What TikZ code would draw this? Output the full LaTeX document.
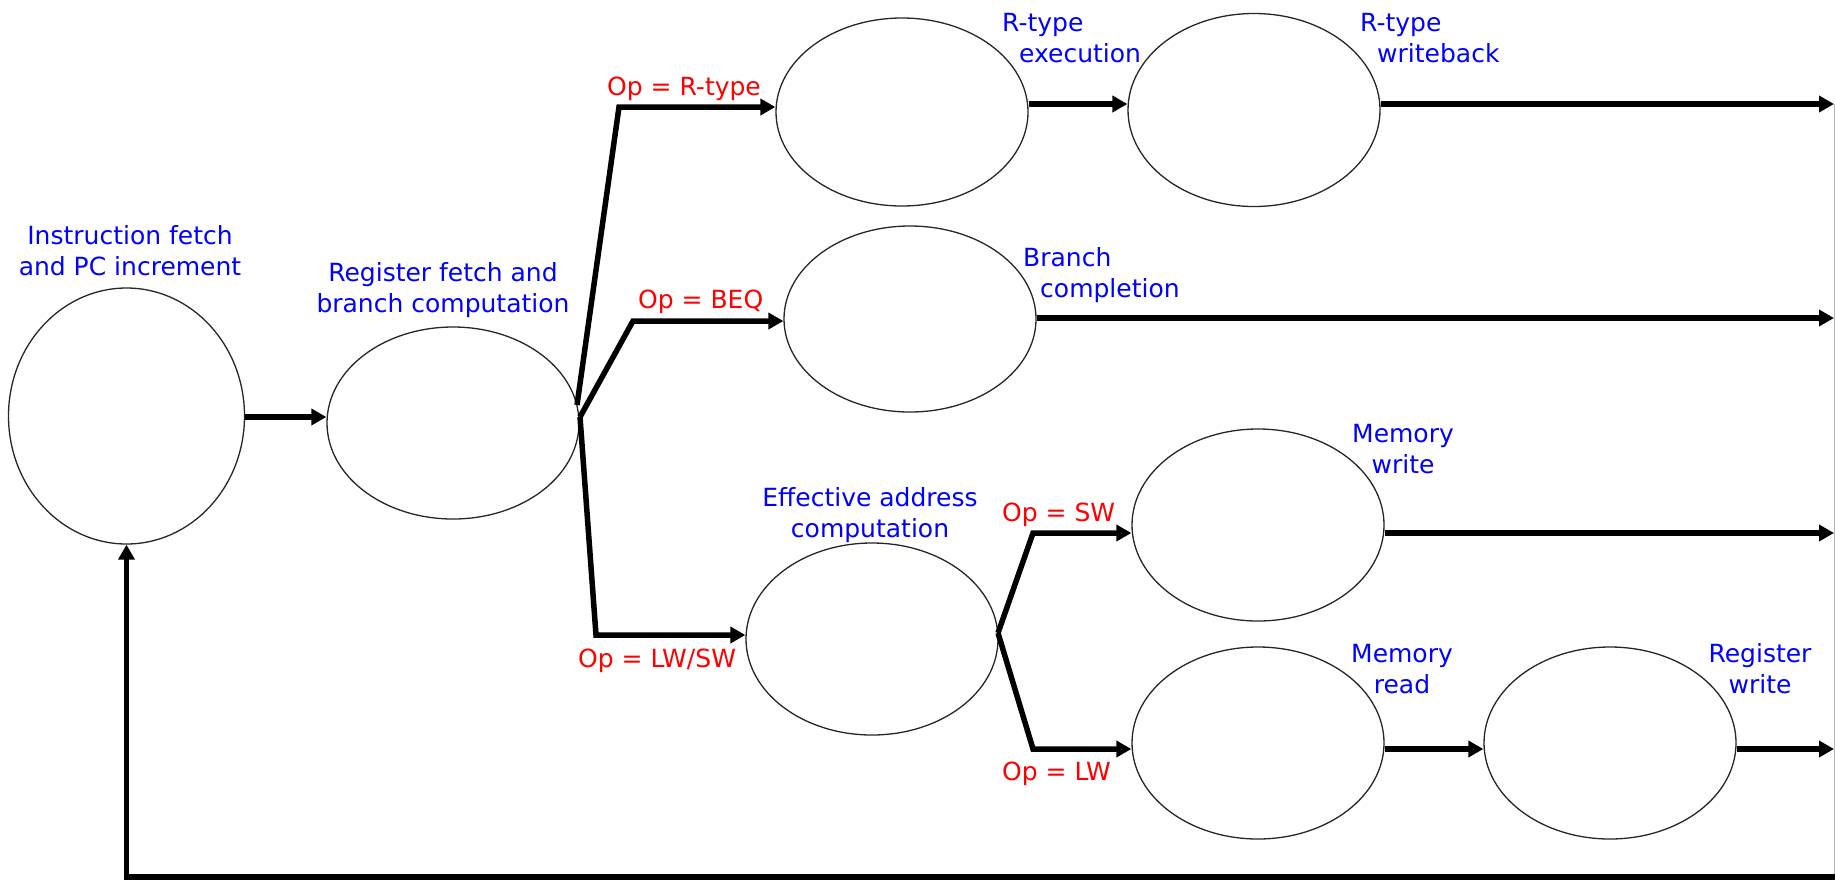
\documentclass[tikz,border=0pt]{standalone}
\usepackage{fontspec}
\setmainfont{DejaVu Sans}
\usetikzlibrary{shapes.geometric,arrows.meta}
\begin{document}
\begin{tikzpicture}[x=1pt,y=-1pt,
  state/.style={draw=black!85, line width=1.3pt, ellipse, inner sep=0pt},
  conn/.style={line width=5.5pt, -{Triangle[length=15pt,width=16pt]}},
  lbl/.style={text=blue, inner sep=0pt, font=\fontsize{25}{31}\selectfont},
  cond/.style={text=red, inner sep=0pt, font=\fontsize{25}{31}\selectfont, anchor=base west},
]
\useasboundingbox (0,0) rectangle (1835,879);
% states
\node[state, minimum width=236pt, minimum height=256pt] (IF) at (126.5,416) {};
\node[state, minimum width=252pt, minimum height=192pt] (RF) at (453,423) {};
\node[state, minimum width=252pt, minimum height=188pt] (EX) at (902,112) {};
\node[state, minimum width=252pt, minimum height=193pt] (WB) at (1254,110) {};
\node[state, minimum width=252pt, minimum height=186pt] (BR) at (910,319) {};
\node[state, minimum width=252pt, minimum height=192pt] (EA) at (872,639) {};
\node[state, minimum width=252pt, minimum height=192pt] (MW) at (1258,525) {};
\node[state, minimum width=252pt, minimum height=192pt] (MR) at (1258,743) {};
\node[state, minimum width=252pt, minimum height=192pt] (RW) at (1610,743) {};
% labels (anchor at baseline of the last line)
\node[lbl, anchor=base, align=center] (tIF) at (130,275) {Instruction fetch\\and PC increment};
\node[lbl, anchor=base, align=center] (tRF) at (443,312) {Register fetch and\\branch computation};
\node[lbl, anchor=base west, align=left] (tEX) at (1002,62) {R-type\\\hspace*{17pt}execution};
\node[lbl, anchor=base west, align=left] (tWB) at (1360,62) {R-type\\\hspace*{17pt}writeback};
\node[lbl, anchor=base west, align=left] (tBR) at (1023,297) {Branch\\\hspace*{17pt}completion};
\node[lbl, anchor=base, align=center] (tEA) at (870,537) {Effective address\\computation};
\node[lbl, anchor=base, align=center] (tMW) at (1403,473) {Memory\\write};
\node[lbl, anchor=base, align=center] (tMR) at (1402,693) {Memory\\read};
\node[lbl, anchor=base, align=center] (tRW) at (1760,693) {Register\\write};
\node[cond] (oR) at (607,95) {Op = R-type};
\node[cond] (oB) at (638,308) {Op = BEQ};
\node[cond] (oL) at (578,667) {Op = LW/SW};
\node[cond] (oS) at (1002,521) {Op = SW};
\node[cond] (oW) at (1002,780) {Op = LW};
% helper coordinates
\coordinate (rEdge) at (1834,0);
\coordinate (jR) at (577,405);
\coordinate (j1) at (580,417);
\coordinate (cR) at (619,107);
\coordinate (cB) at (633,321);
\coordinate (cL) at (596,635);
\coordinate (jE) at (998,633);
\coordinate (cS) at (1033,533);
\coordinate (cW) at (1033,749);
\coordinate (r1) at (0,104);
\coordinate (fb) at (1840,877);
\coordinate (g1) at (1834.5,104);
\coordinate (g2) at (1834.5,879);
% connectors
\draw[black!30, line width=1pt] (g1) -- (g2);
\draw[conn] (IF.east |- 0,417) -- (RF.west |- 0,417);
\draw[conn] (jR) -- (cR) -- (cR -| EX.west);
\draw[conn] (j1) -- (cB) -- (cB -| BR.west);
\draw[conn] (j1) -- (cL) -- (cL -| EA.west);
\draw[conn] (EX.east |- r1) -- (WB.west |- r1);
\draw[conn] (WB.east |- r1) -- (rEdge |- r1);
\draw[conn] (BR.east |- 0,318) -- (rEdge |- 0,318);
\draw[conn] (jE) -- (cS) -- (cS -| MW.west);
\draw[conn] (jE) -- (cW) -- (cW -| MR.west);
\draw[conn] (MW.east |- cS) -- (rEdge |- cS);
\draw[conn] (MR.east |- cW) -- (RW.west |- cW);
\draw[conn] (RW.east |- cW) -- (rEdge |- cW);
\draw[conn] (fb) -- (fb -| IF.south) -- (IF.south);
\end{tikzpicture}
\end{document}
